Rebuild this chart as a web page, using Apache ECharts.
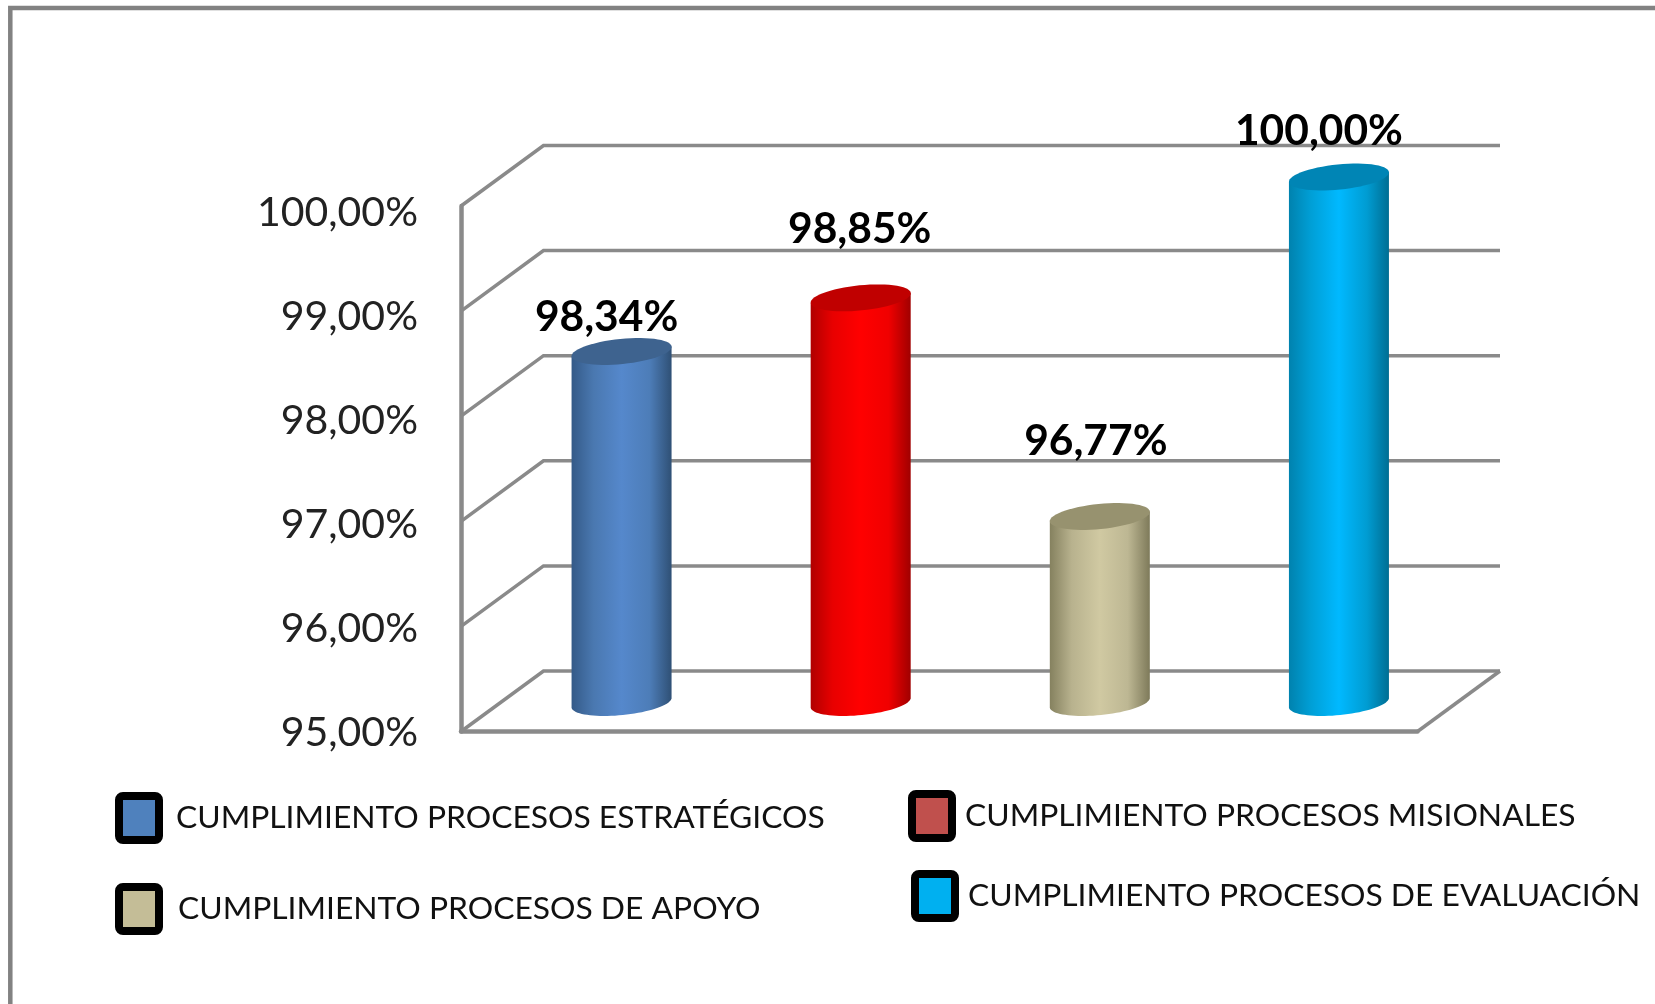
<!DOCTYPE html>
<html><head><meta charset="utf-8">
<style>html,body{margin:0;padding:0;background:#fff}#c{width:1655px;height:1004px}</style>
<script src="https://cdn.jsdelivr.net/npm/echarts@6/dist/echarts.min.js"></script>
</head><body><div id="c"></div>
<script>
const categories = ['CUMPLIMIENTO PROCESOS ESTRATÉGICOS','CUMPLIMIENTO PROCESOS MISIONALES','CUMPLIMIENTO PROCESOS DE APOYO','CUMPLIMIENTO PROCESOS DE EVALUACIÓN'];
const values = [98.34, 98.85, 96.77, 100.00];
const valueTicks = [95, 96, 97, 98, 99, 100];

// styling and layout, kept apart from the data
const legendColors = ['#4F81BD','#C0504D','#C4BD97','#00B0F0'];
const capColors = ['#3E638F','#C00000','#97926F','#0085B5'];
const bodyStops = [
  ['#345A88','#4A78B0','#5588CC','#4D7DB8','#2F5075'],
  ['#B00000','#E80000','#FF0000','#F00000','#A00000'],
  ['#85815F','#B8B28E','#D0C9A2','#BDB793','#7E7A5A'],
  ['#0082AE','#009FD6','#00B9FF','#009CD2','#006E93']
];
const labelShift = [[-15,-34],[-1,-69],[-4,-75],[-20,-46]];
// left, top, text gap, text nudge top, text nudge bottom
const legendPlace = [[115,792,12,6,0],[908,790,8,0,4],[115,883,14,0,8],[911,870,8,0,2]];
const ICON = 'path://M4 0H36A4 4 0 0 1 40 4V40A4 4 0 0 1 36 44H4A4 4 0 0 1 0 40V4A4 4 0 0 1 4 0Z';
const DEPTH_X = 82.5, FRONT_TO_BACK_Y = 60.5, AXIS_X = 41, AXIS_Y = 29;
const GREY = '#8A8A8A';
const FONT = 'Lato';

const fmt = v => v.toFixed(2).replace('.', ',') + '%';

function ellipsePt(cx, cy, t) {
  const a = 50, b = 12.5, s = 0.1;
  const ex = a * Math.cos(t), ey = b * Math.sin(t);
  return [cx + ex + ey * s, cy + ey - ex * s];
}
function ellipseArc(cx, cy, from, to, n) {
  const pts = [];
  for (let i = 0; i <= n; i++) pts.push(ellipsePt(cx, cy, from + (to - from) * i / n));
  return pts;
}

function renderCyl(i) {
  return function (params, api) {
    const top = api.coord([api.value(0), api.value(1)]);
    const base = api.coord([api.value(0), 95]);
    const cx = top[0] + AXIS_X, yt = top[1] - AXIS_Y, yb = base[1] - AXIS_Y;
    const st = bodyStops[i];
    const body = [ellipsePt(cx, yt, Math.PI)]
      .concat(ellipseArc(cx, yb, Math.PI, 0, 40))
      .concat([ellipsePt(cx, yt, 0)]);
    const cap = ellipseArc(cx, yt, 0, Math.PI * 2, 60);
    return { type: 'group', children: [
      { type: 'polygon', shape: { points: body }, style: { fill: {
          type: 'linear', x: 0, y: 0, x2: 1, y2: 0,
          colorStops: [{offset:0,color:st[0]},{offset:.22,color:st[1]},{offset:.5,color:st[2]},{offset:.78,color:st[3]},{offset:1,color:st[4]}]
        } } },
      { type: 'polygon', shape: { points: cap }, style: { fill: capColors[i] } },
      { type: 'text', x: cx + labelShift[i][0], y: yt + labelShift[i][1], style: {
          text: fmt(api.value(1)), fill: '#000', font: 'bold 42.5px ' + FONT, align: 'center', verticalAlign: 'middle' } }
    ] };
  };
}

function renderFrame(params, api) {
  const g = params.coordSys, v = api.value(0);
  const y = api.coord([0, v])[1];
  const lineStyle = { stroke: GREY, lineWidth: 3.5, fill: null };
  const kids = [{ type: 'polyline', shape: { points: [
    [g.x, y], [g.x + DEPTH_X, y - FRONT_TO_BACK_Y], [g.x + g.width + DEPTH_X, y - FRONT_TO_BACK_Y]
  ] }, style: lineStyle }];
  if (v === valueTicks[0]) kids.push({ type: 'line', shape: {
    x1: g.x + g.width, y1: y, x2: g.x + g.width + DEPTH_X, y2: y - FRONT_TO_BACK_Y }, style: lineStyle });
  return { type: 'group', children: kids };
}

const chart = echarts.init(document.getElementById('c'), null, { renderer: 'canvas' });
chart.setOption({
  animation: false,
  backgroundColor: '#fff',
  grid: [
    { left: 461, top: 206, width: 956.5, height: 525.5 },
    { left: 461, top: 212.3, width: 956.5, height: 520 }
  ],
  xAxis: [
    { type: 'category', data: categories, gridIndex: 0,
      axisLine: { lineStyle: { color: GREY, width: 4.5 } }, axisTick: { show: false }, axisLabel: { show: false } },
    { type: 'category', data: categories, gridIndex: 1, show: false }
  ],
  yAxis: [
    { type: 'value', gridIndex: 0, min: 95, max: 100, interval: 1,
      axisLine: { show: true, lineStyle: { color: GREY, width: 4.5 } }, axisTick: { show: false }, splitLine: { show: false },
      axisLabel: { show: false } },
    { type: 'value', gridIndex: 1, min: 95, max: 100, interval: 1,
      axisLine: { show: false }, axisTick: { show: false }, splitLine: { show: false },
      axisLabel: { formatter: fmt, fontFamily: FONT, fontSize: 41, color: '#222', margin: 43 } }
  ],
  legend: categories.map((c, i) => ({
    left: legendPlace[i][0], top: legendPlace[i][1], padding: 0, orient: 'horizontal',
    itemWidth: 40, itemHeight: 44, selectedMode: false,
    data: [{ name: c, icon: ICON, itemStyle: { color: legendColors[i], borderColor: '#000', borderWidth: 8 } }],
    textStyle: { fontFamily: FONT, fontSize: 31.8, color: '#111', padding: [legendPlace[i][3], 0, legendPlace[i][4], legendPlace[i][2]] }
  })),
  graphic: [{ type: 'polyline', silent: true, shape: { points: [[10.3, 1004], [10.3, 8], [1655, 8]] },
    style: { stroke: '#828282', lineWidth: 4.5, fill: null } }],
  series: [
    { type: 'custom', name: 'frame', coordinateSystem: 'cartesian2d', silent: true, clip: false, z: 1,
      data: valueTicks.map(v => [v]), encode: { y: 0 }, renderItem: renderFrame }
  ].concat(categories.map((c, i) => ({
    type: 'custom', name: c, coordinateSystem: 'cartesian2d', clip: false, z: 2,
    itemStyle: { color: legendColors[i] },
    data: [[i, values[i]]], encode: { x: 0, y: 1 }, renderItem: renderCyl(i)
  })))
});
</script></body></html>
